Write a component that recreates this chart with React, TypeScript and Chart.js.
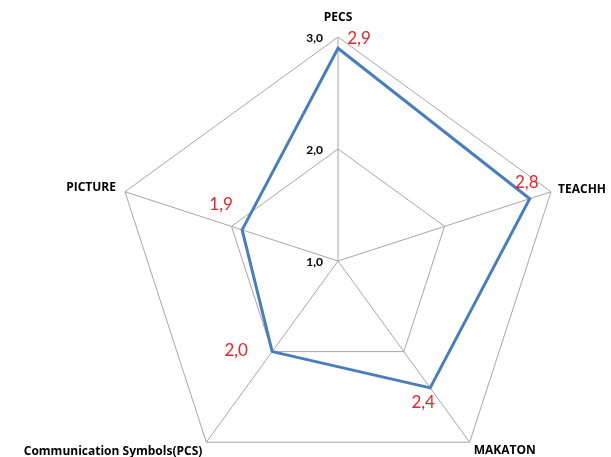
import React, { useEffect, useRef } from "react";
import { Chart, registerables } from "chart.js";

Chart.register(...registerables);

const categories = ["PECS", "TEACHH", "MAKATON", "Communication Symbols(PCS)", "PICTURE"];
const values = [2.9, 2.8, 2.4, 2.0, 1.9];
const tickValues = [1, 2, 3];
const SCALE_MIN = 1;
const SCALE_MAX = 3;

const fmt = (v: number) => v.toFixed(1).replace(".", ",");

// label placement styles (offsets from the mark)
const valueLabelOffsets = [
  { dx: 21, dy: -10 },
  { dx: -3, dy: -16 },
  { dx: -7, dy: 15 },
  { dx: -36, dy: -1 },
  { dx: -21, dy: -25 },
];
const catLabelStyles: { align: CanvasTextAlign; dx: number; dy: number }[] = [
  { align: "center", dx: 0, dy: -19 },
  { align: "left", dx: 7, dy: -2 },
  { align: "left", dx: 4, dy: 8 },
  { align: "right", dx: -4, dy: 9 },
  { align: "right", dx: -9, dy: -4 },
];

const labelPlugin = {
  id: "customLabels",
  afterDraw(chart: any) {
    const scale = chart.scales.r;
    const ctx = chart.ctx;
    ctx.save();
    ctx.textBaseline = "middle";
    // tick labels
    ctx.fillStyle = "#000000";
    ctx.font = "bold 12px Lato";
    ctx.textAlign = "right";
    tickValues.forEach((t) => {
      const d = scale.getDistanceFromCenterForValue(t);
      ctx.fillText(fmt(t), scale.xCenter - 15, scale.yCenter - d + 1);
    });
    // category labels
    ctx.font = "bold 12px 'Open Sans'";
    categories.forEach((c, i) => {
      const p = scale.getPointPositionForValue(i, SCALE_MAX);
      const s = catLabelStyles[i];
      ctx.textAlign = s.align;
      ctx.fillText(c, p.x + s.dx, p.y + s.dy);
    });
    // value labels
    ctx.font = "17px Lato";
    ctx.fillStyle = "#e3262b";
    ctx.textAlign = "center";
    values.forEach((v, i) => {
      const p = scale.getPointPositionForValue(i, v);
      const o = valueLabelOffsets[i];
      ctx.fillText(fmt(v), p.x + o.dx, p.y + o.dy);
    });
    ctx.restore();
  },
};

export default function App() {
  const ref = useRef<HTMLCanvasElement>(null);
  useEffect(() => {
    if (!ref.current) return;
    const chart = new Chart(ref.current, {
      type: "radar",
      data: {
        labels: categories,
        datasets: [
          {
            data: values,
            borderColor: "#4a7ebb",
            borderWidth: 3,
            fill: false,
            pointRadius: 0,
            pointHoverRadius: 0,
          },
        ],
      },
      options: {
        responsive: false,
        animation: false,
        devicePixelRatio: 1,
        layout: { padding: { left: 114, right: 49, top: 37, bottom: 37 } },
        plugins: { legend: { display: false }, tooltip: { enabled: false } },
        scales: {
          r: {
            min: SCALE_MIN,
            max: SCALE_MAX,
            ticks: { display: false, stepSize: 1 },
            pointLabels: { display: false },
            grid: { color: "#a6a6a6", lineWidth: 1 },
            angleLines: { color: "#a6a6a6", lineWidth: 1 },
          },
        },
      },
      plugins: [labelPlugin],
    });
    return () => chart.destroy();
  }, []);
  return (
    <div
      style={{
        position: "fixed",
        left: 0,
        top: 0,
        width: 611,
        height: 457,
        overflow: "hidden",
        background: "#ffffff",
      }}
    >
      <canvas ref={ref} width={611} height={522} />
    </div>
  );
}
